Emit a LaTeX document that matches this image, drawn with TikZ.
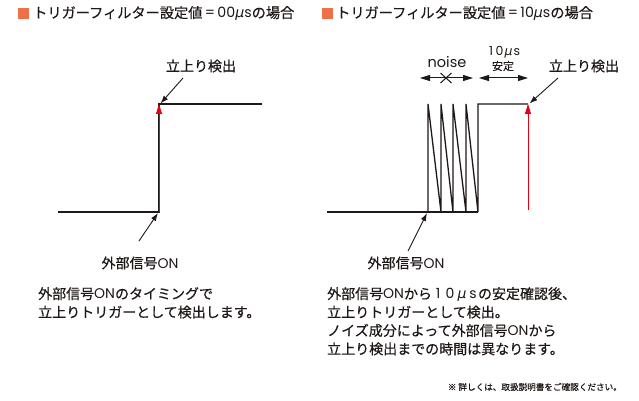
\documentclass[tikz,border=0pt]{standalone}
\usepackage{fontspec}
\setmainfont{Noto Sans CJK JP}[FakeBold=0.4]
\newfontfamily\lat{Poppins}
\newfontfamily\mufont{DejaVu Sans}
\newcommand{\muit}{{\mufont\itshape μ}}
\newcommand{\cell}[2]{\makebox[#1][c]{#2}}
\usetikzlibrary{arrows.meta}
\definecolor{sq}{RGB}{236,112,72}
\definecolor{ink}{RGB}{30,24,22}
\definecolor{sigred}{RGB}{230,0,18}
\tikzset{
  wave/.style={draw=ink,line width=1.3pt,line join=miter},
  ptr/.style={draw=ink,line width=0.9pt,-{Latex[length=8pt,width=5.5pt]}},
  redarr/.style={draw=sigred,line width=0.8pt,-{Triangle[length=10pt,width=6pt]}},
  span/.style={draw=ink,line width=1pt,{Triangle[length=10pt,width=6pt]}-{Triangle[length=10pt,width=6pt]}},
  lbl/.style={inner sep=0pt,text=ink,font=\fontsize{14}{16}\selectfont},
  body/.style={inner sep=0pt,text=ink,align=left,anchor=north west,font=\fontsize{14}{18.4}\selectfont},
  head/.style={inner sep=0pt,text=ink,anchor=west,font=\fontsize{14.2}{16}\selectfont},
  sqbox/.style={fill=sq,draw=none,minimum size=11pt,inner sep=0pt}
}
\begin{document}
\begin{tikzpicture}[x=1pt,y=-1pt]
\useasboundingbox[fill=white] (0,0) rectangle (639,401);
% headers
\node[sqbox] (sqL) at (23.5,13.5) {};
\node[head] (hL) at (33,13.5) {トリガーフィルター設定値{\lat\,=\,00}\muit{\lat s}の場合};
\node[sqbox] (sqR) at (327.5,13.5) {};
\node[head] (hR) at (336,13.5) {トリガーフィルター設定値{\lat\,=\,10}\muit{\lat s}の場合};
% left waveform
\coordinate (L0) at (58,212);
\coordinate (Lr) at (159,212);
\coordinate (Lt) at (159,104);
\coordinate (Le) at (262,104);
\draw[wave] (L0) -- (Lr) -- (Lt) -- (Le);
\draw[redarr] (Lr) -- (Lt);
\node[lbl] (upL) at (201,66) {立上り検出};
\coordinate (upLs) at (183,78);
\draw[ptr] (upLs) -- (160.5,103.5);
\node[lbl] (onL) at (140,263) {外部信号{\lat ON}};
\coordinate (onLs) at (139,241);
\draw[ptr] (onLs) -- (158,213);
% right waveform
\coordinate (R0) at (327,212);
\coordinate (Rb) at (478,212);
\coordinate (Rt) at (478,104);
\coordinate (Re) at (528,104);
\draw[wave] (R0) -- (Rb);
\draw[wave] (428,212) -- (428,104) -- (441,212) -- (441,104) -- (453,212) -- (453,104) -- (466,212) -- (466,104) -- (Rb) -- (Rt) -- (Re);
\coordinate (Rrb) at (528,210);
\draw[redarr] (Rrb) -- (Re);
% spans
\coordinate (n1) at (420,78);
\coordinate (n2) at (473,78);
\coordinate (s1) at (479,78);
\coordinate (s2) at (528,78);
\draw[span] (n1) -- (n2);
\draw[span] (s1) -- (s2);
\draw[draw=ink,line width=1pt] (440.5,73) -- (451.5,83) (440.5,83) -- (451.5,73);
\node[lbl,font=\fontsize{14.5}{16}\selectfont\lat] (noise) at (447,62) {noise};
\node[lbl,font=\fontsize{12.5}{13}\selectfont] (tenus) at (504,52) {\cell{8pt}{\lat 1}\cell{9pt}{\lat 0}\cell{9pt}{\muit}\cell{8pt}{\lat s}};
\node[lbl,font=\fontsize{11}{12}\selectfont] (antei) at (503,66) {安定};
\node[lbl] (upR) at (584,66) {立上り検出};
\coordinate (upRs) at (558,78);
\draw[ptr] (upRs) -- (529.5,103.5);
\node[lbl] (onR) at (406,263) {外部信号{\lat ON}};
\coordinate (onRs) at (408,251);
\draw[ptr] (onRs) -- (427,213);
% body texts
\node[body] (bL) at (38,287) {外部信号{\lat ON}のタイミングで\\立上りトリガーとして検出します。};
\node[body] (bR) at (327,287) {外部信号{\lat ON}から\cell{12pt}{\lat 1}\cell{12pt}{\lat 0}\cell{12pt}{\muit}\cell{10pt}{\lat s}の安定確認後、\\立上りトリガーとして検出。\\ノイズ成分によって外部信号{\lat ON}から\\立上り検出までの時間は異なります。};
\node[inner sep=0pt,text=ink,anchor=east,font=\fontsize{8.6}{10}\selectfont] (foot) at (622,387) {※ 詳しくは、取扱説明書をご確認ください。};
\end{tikzpicture}
\end{document}
